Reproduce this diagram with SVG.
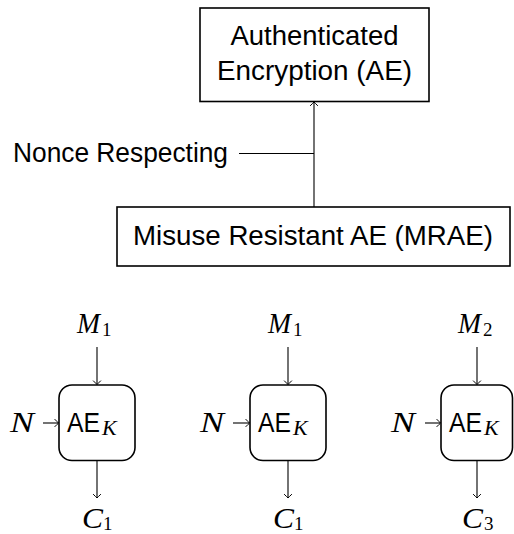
<svg xmlns="http://www.w3.org/2000/svg" width="514" height="534" viewBox="0 0 514 534">
  <style>
    .box { fill: #fff; stroke: #000; stroke-width: 1.6; }
    .wire { fill: none; stroke: #000; stroke-width: 1.1; }
    .arr { marker-end: url(#tip); }
    .lbl { font-family: "Liberation Sans", Arial, sans-serif; font-size: 27.5px; fill: #000; }
    .mi { font-family: "Liberation Serif", "Times New Roman", serif; font-style: italic; font-size: 30px; fill: #000; }
    .sub { font-family: "Liberation Serif", "Times New Roman", serif; font-size: 19px; fill: #000; }
    .subi { font-family: "Liberation Serif", "Times New Roman", serif; font-style: italic; font-size: 22px; fill: #000; }
    .op { font-family: "Liberation Sans", Arial, sans-serif; font-size: 27px; fill: #000; }
  </style>
  <defs>
    <marker id="tip" viewBox="-5 -5 6 10" refX="0" refY="0" markerWidth="6" markerHeight="10" markerUnits="userSpaceOnUse" orient="auto">
      <path d="M -3.6 -3.6 Q -0.8 -0.8 0 0 Q -0.8 0.8 -3.6 3.6" fill="none" stroke="#000" stroke-width="1" stroke-linecap="round"/>
    </marker>
  </defs>

  <!-- hierarchy connectors -->
  <g id="connectors">
    <line class="wire arr" x1="314" y1="207" x2="314" y2="102"/>
    <line class="wire" x1="239" y1="153.5" x2="314" y2="153.5"/>

    <!-- block 1 -->
    <line class="wire arr" x1="97" y1="347" x2="97" y2="384.5"/>
    <line class="wire arr" x1="43" y1="423" x2="58.5" y2="423"/>
    <line class="wire arr" x1="97" y1="460.5" x2="97" y2="498"/>
    <!-- block 2 -->
    <line class="wire arr" x1="288" y1="347" x2="288" y2="384.5"/>
    <line class="wire arr" x1="233" y1="423" x2="249.5" y2="423"/>
    <line class="wire arr" x1="288" y1="460.5" x2="288" y2="498"/>
    <!-- block 3 -->
    <line class="wire arr" x1="477" y1="347" x2="477" y2="384.5"/>
    <line class="wire arr" x1="425" y1="423" x2="440.5" y2="423"/>
    <line class="wire arr" x1="477" y1="460.5" x2="477" y2="498"/>
  </g>

  <g id="ae">
    <rect class="box" x="200" y="8" width="229" height="93.5"/>
    <text class="lbl" x="314.5" y="45" text-anchor="middle" textLength="168" lengthAdjust="spacingAndGlyphs">Authenticated</text>
    <text class="lbl" x="314.5" y="80" text-anchor="middle" textLength="195" lengthAdjust="spacingAndGlyphs">Encryption (AE)</text>
  </g>

  <g id="mrae">
    <rect class="box" x="117" y="207" width="393" height="59"/>
    <text class="lbl" x="313" y="245" text-anchor="middle" textLength="360" lengthAdjust="spacingAndGlyphs">Misuse Resistant AE (MRAE)</text>
  </g>

  <g id="nonce-respecting">
    <text class="lbl" x="13" y="162" textLength="215" lengthAdjust="spacingAndGlyphs">Nonce Respecting</text>
  </g>

  <!-- block 1: M1, N -> AE_K -> C1 -->
  <g id="block1">
    <rect class="box" x="59" y="385" width="76" height="75.5" rx="13" ry="13"/>
    <text class="op" x="67" y="432" textLength="33" lengthAdjust="spacingAndGlyphs">AE</text>
    <text class="subi" x="102" y="435">K</text>
  </g>
  <g id="m1-a">
    <text class="mi" x="77" y="333" textLength="23" lengthAdjust="spacingAndGlyphs">M</text>
    <text class="sub" x="102" y="336">1</text>
  </g>
  <g id="n-a">
    <text class="mi" x="10" y="432" textLength="24" lengthAdjust="spacingAndGlyphs">N</text>
  </g>
  <g id="c1-a">
    <text class="mi" x="82" y="528" textLength="21" lengthAdjust="spacingAndGlyphs">C</text>
    <text class="sub" x="103" y="530">1</text>
  </g>

  <!-- block 2: M1, N -> AE_K -> C1 -->
  <g id="block2">
    <rect class="box" x="250" y="385" width="76" height="75.5" rx="13" ry="13"/>
    <text class="op" x="258" y="432" textLength="33" lengthAdjust="spacingAndGlyphs">AE</text>
    <text class="subi" x="293" y="435">K</text>
  </g>
  <g id="m1-b">
    <text class="mi" x="268" y="333" textLength="23" lengthAdjust="spacingAndGlyphs">M</text>
    <text class="sub" x="293" y="336">1</text>
  </g>
  <g id="n-b">
    <text class="mi" x="200" y="432" textLength="24" lengthAdjust="spacingAndGlyphs">N</text>
  </g>
  <g id="c1-b">
    <text class="mi" x="273" y="528" textLength="21" lengthAdjust="spacingAndGlyphs">C</text>
    <text class="sub" x="294" y="530">1</text>
  </g>

  <!-- block 3: M2, N -> AE_K -> C3 -->
  <g id="block3">
    <rect class="box" x="441" y="385" width="71.5" height="75.5" rx="13" ry="13"/>
    <text class="op" x="449" y="432" textLength="33" lengthAdjust="spacingAndGlyphs">AE</text>
    <text class="subi" x="484" y="435">K</text>
  </g>
  <g id="m2">
    <text class="mi" x="458" y="333" textLength="23" lengthAdjust="spacingAndGlyphs">M</text>
    <text class="sub" x="483" y="336">2</text>
  </g>
  <g id="n-c">
    <text class="mi" x="391" y="432" textLength="24" lengthAdjust="spacingAndGlyphs">N</text>
  </g>
  <g id="c3">
    <text class="mi" x="462" y="528" textLength="21" lengthAdjust="spacingAndGlyphs">C</text>
    <text class="sub" x="484" y="530">3</text>
  </g>
</svg>
